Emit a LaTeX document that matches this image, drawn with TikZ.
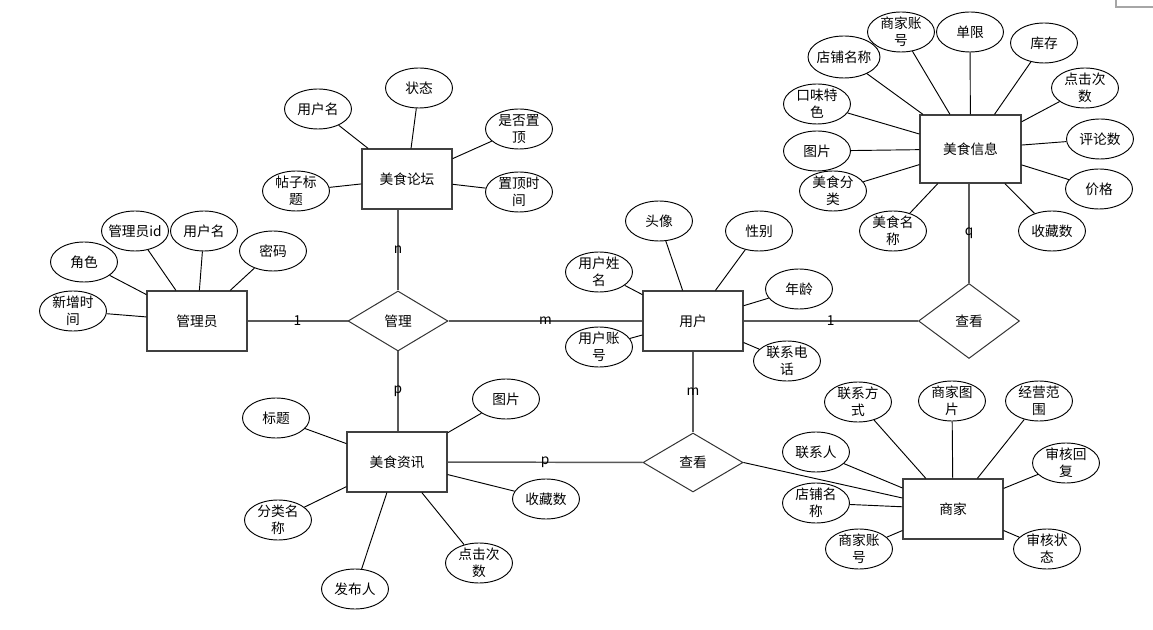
\documentclass[tikz,border=0pt]{standalone}
\usepackage{fontspec}
\setmainfont{Noto Sans CJK SC}
\usetikzlibrary{shapes.geometric}
\begin{document}
\begin{tikzpicture}[x=0.75pt,y=-0.75pt,
  font=\fontsize{10.3pt}{12.75pt}\selectfont,
  ent/.style={draw=black!75,line width=0.9pt,minimum width=75pt,minimum height=45pt,inner sep=0pt},
  rel/.style={draw=black!80,line width=0.75pt,diamond,minimum width=75pt,minimum height=45pt,inner sep=0pt},
  attr/.style={draw,ellipse,line width=0.7pt,minimum width=50.25pt,minimum height=30pt,inner sep=0pt},
  atxt/.style={inner sep=0pt,align=center},
  al/.style={line width=0.7pt},
  cl/.style={draw=black!65,line width=1.1pt},
  lbl/.style={inner sep=0pt}
]
\useasboundingbox (0,0) rectangle (1153,630);
\draw[black!35,line width=0.8pt] (1116,0) -- (1116,7) -- (1153,7);

% entities
\node[ent] (admin) at (197,321) {管理员};
\node[ent,minimum width=67.5pt] (forum) at (407,179) {美食论坛};
\node[ent] (user) at (693,321) {用户};
\node[ent,minimum width=75.75pt,minimum height=51pt] (info) at (970.5,149) {美食信息};
\node[ent] (news) at (397,462) {美食资讯};
\node[ent] (shop) at (953,509) {商家};

% relationships
\node[rel] (mgmt) at (398,321) {管理};
\node[rel,minimum width=75.75pt,minimum height=56.25pt] (view1) at (969,321) {查看};
\node[rel,minimum height=44.25pt] (view2) at (693,462.5) {查看};

% relationship connectors
\draw[cl] (admin) -- node[lbl]{1} (mgmt);
\draw[cl] (mgmt) -- node[lbl]{m} (user);
\draw[cl] (mgmt.north) -- node[lbl]{n} (mgmt.north |- forum.south);
\draw[cl] (mgmt.south) -- node[lbl]{p} (mgmt.south |- news.north);
\draw[cl] (user) -- node[lbl]{1} (view1);
\draw[cl] (view1.north) -- node[lbl]{q} (view1.north |- info.south);
\draw[cl] (user.south) -- node[lbl]{m} (view2.north);
\draw[cl] (news) -- node[lbl]{p} (view2);
\draw[al] (view2.east) -- ([yshift=8.25pt]shop.west);

% attributes of 管理员
\node[attr] (a1) at (73,311) {};   \node[atxt] (a1t) at (a1) {新增时\\间};
\node[attr] (a2) at (84,262) {};   \node[atxt] (a2t) at (a2) {角色};
\node[attr] (a3) at (135,231) {};  \node[atxt] (a3t) at (a3) {管理员id};
\node[attr] (a4) at (204,231) {};  \node[atxt] (a4t) at (a4) {用户名};
\node[attr] (a5) at (273,251) {};  \node[atxt] (a5t) at (a5) {密码};
\foreach \n in {a1,a2,a3,a4,a5} \draw[al] (\n) -- (admin);

% attributes of 美食论坛
\node[attr] (f1) at (318,109) {};  \node[atxt] (f1t) at (f1) {用户名};
\node[attr] (f2) at (419,88) {};   \node[atxt] (f2t) at (f2) {状态};
\node[attr] (f3) at (519,129) {};  \node[atxt] (f3t) at (f3) {是否置\\顶};
\node[attr] (f4) at (519,192) {};  \node[atxt] (f4t) at (f4) {置顶时\\间};
\node[attr] (f5) at (296,191) {};  \node[atxt] (f5t) at (f5) {帖子标\\题};
\foreach \n in {f1,f2,f3,f4,f5} \draw[al] (\n) -- (forum);

% attributes of 用户
\node[attr] (u1) at (659,221) {};  \node[atxt] (u1t) at (u1) {头像};
\node[attr] (u2) at (759,231) {};  \node[atxt] (u2t) at (u2) {性别};
\node[attr] (u3) at (599,272) {};  \node[atxt] (u3t) at (u3) {用户姓\\名};
\node[attr] (u4) at (799,289) {};  \node[atxt] (u4t) at (u4) {年龄};
\node[attr] (u5) at (599,347) {};  \node[atxt] (u5t) at (u5) {用户账\\号};
\node[attr] (u6) at (787,361) {};  \node[atxt] (u6t) at (u6) {联系电\\话};
\foreach \n in {u1,u2,u3,u4,u5,u6} \draw[al] (\n) -- (user);

% attributes of 美食信息
\node[attr] (i1) at (901,32) {};   \node[atxt] (i1t) at (i1) {商家账\\号};
\node[attr] (i2) at (970,32) {};   \node[atxt] (i2t) at (i2) {单限};
\node[attr] (i3) at (1044,43) {};  \node[atxt] (i3t) at (i3) {库存};
\node[attr,minimum width=54pt,minimum height=31.5pt] (i4) at (844,57) {}; \node[atxt] (i4t) at (i4) {店铺名称};
\node[attr] (i5) at (1085,88) {};  \node[atxt] (i5t) at (i5) {点击次\\数};
\node[attr] (i6) at (817,104) {};  \node[atxt] (i6t) at (i6) {口味特\\色};
\node[attr] (i7) at (1100,139) {}; \node[atxt] (i7t) at (i7) {评论数};
\node[attr] (i8) at (817,151) {};  \node[atxt] (i8t) at (i8) {图片};
\node[attr] (i9) at (833,191) {};  \node[atxt] (i9t) at (i9) {美食分\\类};
\node[attr] (i10) at (1099,189) {}; \node[atxt] (i10t) at (i10) {价格};
\node[attr] (i11) at (893,231) {}; \node[atxt] (i11t) at (i11) {美食名\\称};
\node[attr] (i12) at (1052,231) {}; \node[atxt] (i12t) at (i12) {收藏数};
\foreach \n in {i1,i2,i3,i4,i5,i6,i7,i8,i9,i10,i11,i12} \draw[al] (\n) -- (info);

% attributes of 美食资讯
\node[attr] (n1) at (276,418) {};  \node[atxt] (n1t) at (n1) {标题};
\node[attr] (n2) at (506,399) {};  \node[atxt] (n2t) at (n2) {图片};
\node[attr] (n3) at (278,520) {};  \node[atxt] (n3t) at (n3) {分类名\\称};
\node[attr] (n4) at (355,589) {};  \node[atxt] (n4t) at (n4) {发布人};
\node[attr] (n5) at (479,563) {};  \node[atxt] (n5t) at (n5) {点击次\\数};
\node[attr] (n6) at (546,499) {};  \node[atxt] (n6t) at (n6) {收藏数};
\foreach \n in {n1,n2,n3,n4,n5,n6} \draw[al] (\n) -- (news);

% attributes of 商家
\node[attr] (s1) at (858,402) {};  \node[atxt] (s1t) at (s1) {联系方\\式};
\node[attr] (s2) at (952,401) {};  \node[atxt] (s2t) at (s2) {商家图\\片};
\node[attr] (s3) at (1039,401) {}; \node[atxt] (s3t) at (s3) {经营范\\围};
\node[attr] (s4) at (816,452) {};  \node[atxt] (s4t) at (s4) {联系人};
\node[attr] (s5) at (1066,463) {}; \node[atxt] (s5t) at (s5) {审核回\\复};
\node[attr] (s6) at (816,503) {};  \node[atxt] (s6t) at (s6) {店铺名\\称};
\node[attr] (s7) at (859,549) {};  \node[atxt] (s7t) at (s7) {商家账\\号};
\node[attr] (s8) at (1047,549) {}; \node[atxt] (s8t) at (s8) {审核状\\态};
\foreach \n in {s1,s2,s3,s4,s5,s6,s7,s8} \draw[al] (\n) -- (shop);
\end{tikzpicture}
\end{document}
